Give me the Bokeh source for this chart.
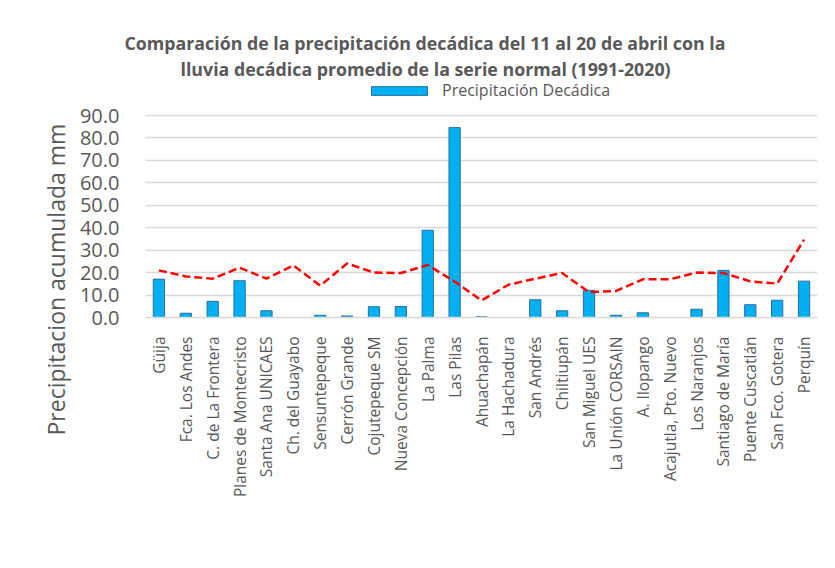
from bokeh.plotting import figure
from bokeh.models import Range1d, FactorRange, NumeralTickFormatter, Title, Legend, LegendItem, ColumnDataSource
from bokeh.embed import file_html
from bokeh.resources import INLINE
import math

stations = ["Güija", "Fca. Los Andes", "C. de La Frontera", "Planes de Montecristo",
            "Santa Ana UNICAES", "Ch. del Guayabo", "Sensuntepeque", "Cerrón Grande",
            "Cojutepeque SM", "Nueva Concepción", "La Palma", "Las Pilas", "Ahuachapán",
            "La Hachadura", "San Andrés", "Chiltiupán", "San Miguel UES", "La Unión CORSAIN",
            "A. Ilopango", "Acajutla, Pto. Nuevo", "Los Naranjos", "Santiago de María",
            "Puente Cuscatlán", "San Fco. Gotera", "Perquín"]
precip = [17.1, 1.9, 7.2, 16.4, 3.0, 0.0, 1.0, 0.7, 4.8, 4.9, 38.9, 84.6, 0.3,
          0.0, 7.9, 3.0, 12.1, 1.0, 2.1, 0.0, 3.7, 21.0, 5.7, 7.7, 16.2]
normal = [21.0, 18.3, 17.3, 22.2, 17.3, 23.2, 14.2, 24.1, 20.0, 19.8, 23.4, 16.0, 7.6,
          14.6, 17.3, 19.8, 11.3, 11.8, 17.0, 17.0, 20.0, 19.8, 16.1, 15.1, 34.7]
y_ticks = [0, 10, 20, 30, 40, 50, 60, 70, 80, 90]
y_max = 90

title1 = "Comparación de la precipitación decádica del 11 al 20 de abril con la"
title2 = "lluvia decádica promedio de la serie normal (1991-2020)"
y_label = "Precipitacion acumulada mm"

FONT = "Open Sans"
GRAY = "#595959"

# layout (pixels)
FRAME_TOP = 80
AXIS_TOP = 115
AXIS_BOTTOM = 317
FRAME_H = AXIS_BOTTOM - FRAME_TOP
y_end = y_max * FRAME_H / (AXIS_BOTTOM - AXIS_TOP)

src = ColumnDataSource(dict(st=stations, p=precip, n=normal))

p = figure(frame_width=672, frame_height=FRAME_H, output_backend="svg", toolbar_location=None,
           x_range=FactorRange(*stations, range_padding=0), y_range=Range1d(0, y_end),
           min_border_left=145, min_border_right=10, min_border_top=FRAME_TOP,
           min_border_bottom=243)
p.x_range.factor_padding = 0
p.outline_line_color = None
p.background_fill_color = "white"
p.border_fill_color = "white"

bars = p.vbar(x="st", top="p", width=0.42, source=src, fill_color="#00B0F0",
              line_color="#2E6DA4", line_width=1)
p.line(x="st", y="n", source=src, line_color="#FF0000", line_width=2.5, line_dash="8 4")

p.xgrid.grid_line_color = None
p.ygrid.grid_line_color = "#D9D9D9"
p.ygrid.grid_line_width = 1.5
p.yaxis.ticker = y_ticks
p.yaxis.formatter = NumeralTickFormatter(format="0.0")
p.yaxis.axis_line_color = None
p.yaxis.major_tick_line_color = None
p.yaxis.minor_tick_line_color = None
p.yaxis.major_label_text_font = FONT
p.yaxis.major_label_text_font_size = "20px"
p.yaxis.major_label_text_color = GRAY
p.yaxis.major_label_standoff = 20

p.xaxis.axis_line_color = "#D9D9D9"
p.xaxis.axis_line_width = 1.5
p.xaxis.major_tick_line_color = None
p.xaxis.minor_tick_line_color = None
p.xaxis.major_label_orientation = math.pi / 2
p.xaxis.major_label_text_font = FONT
p.xaxis.major_label_text_font_size = "15.5px"
p.xaxis.major_label_text_color = GRAY
p.xaxis.major_label_standoff = 13

# y axis title (left panel, rotated)
ytitle = Title(text=y_label, align="left", offset=-118, text_font=FONT, text_font_size="23px",
               text_font_style="normal", text_color=GRAY, standoff=10)
p.add_layout(ytitle, "left")

# chart title in the above panel
t2 = Title(text=title2, align="left", offset=35, text_font=FONT, text_font_size="17.8px",
           text_font_style="bold", text_color=GRAY, standoff=0)
t1 = Title(text=title1, align="left", offset=-21, text_font=FONT, text_font_size="17.8px",
           text_font_style="bold", text_color=GRAY, standoff=0)
p.add_layout(t2, "above")
p.add_layout(t1, "above")

legend = Legend(items=[LegendItem(label="Precipitación Decádica", renderers=[bars])],
                location=(219, AXIS_BOTTOM - 101), orientation="horizontal", padding=0, margin=0,
                border_line_color=None, background_fill_alpha=0,
                glyph_width=70, glyph_height=11, label_text_font=FONT,
                label_text_font_size="16px", label_text_color=GRAY, label_standoff=8,
                label_height=14)
p.add_layout(legend, "center")

open("out.html", "w").write(file_html(p, INLINE))
